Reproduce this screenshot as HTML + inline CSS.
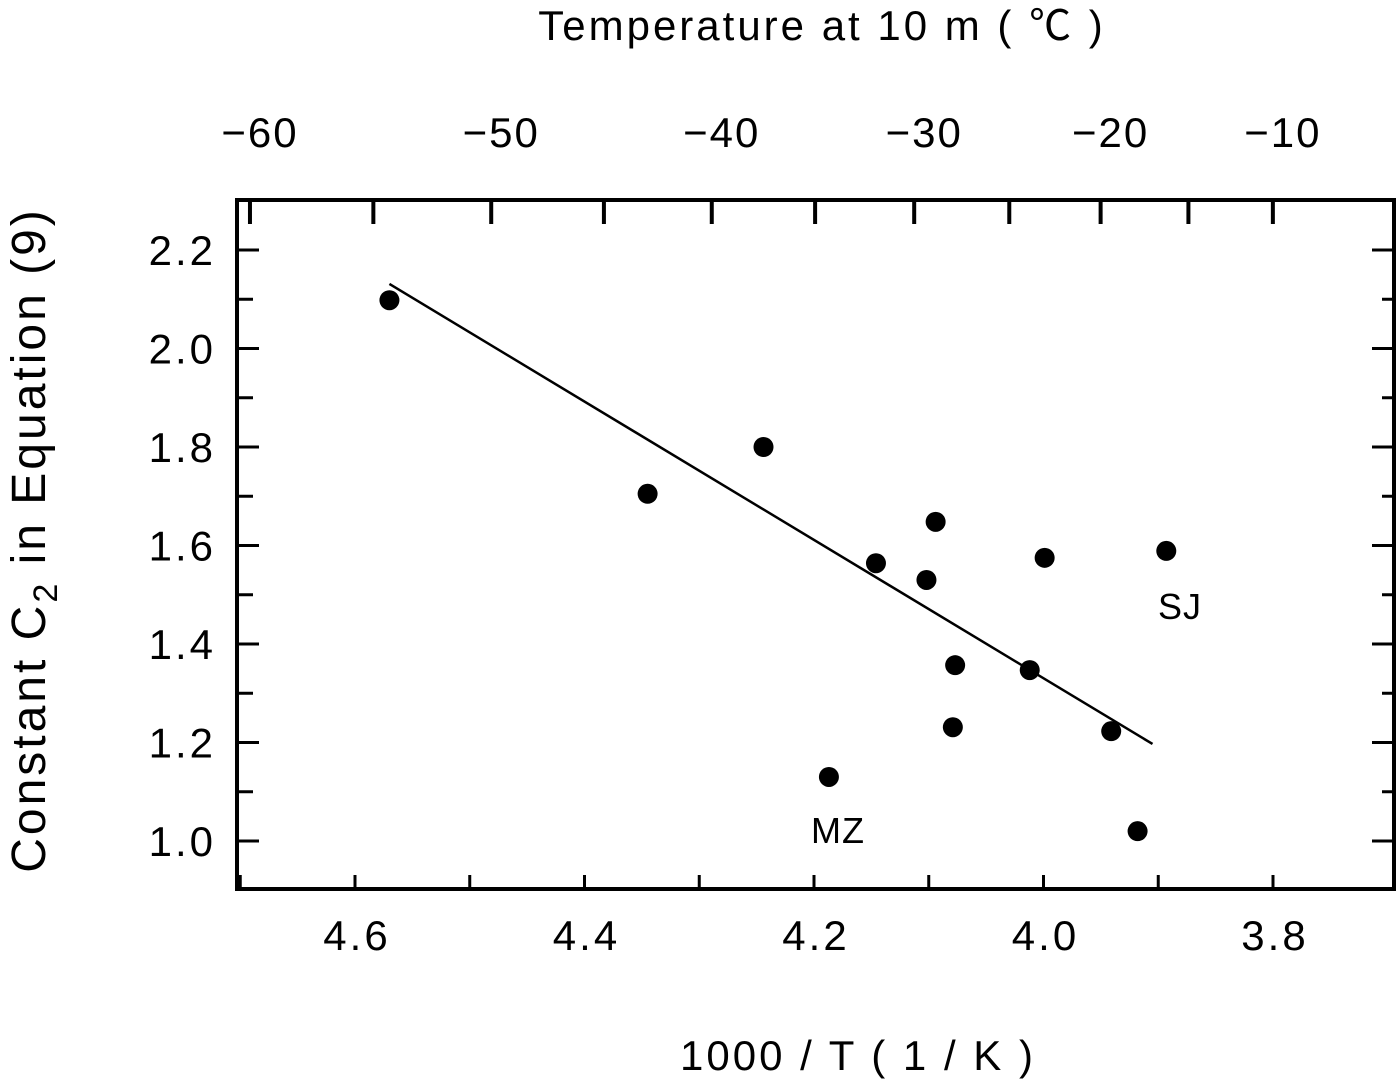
<!DOCTYPE html>
<html><head><meta charset="utf-8"><style>
body{margin:0;background:#fff}
svg text{font-family:"Liberation Sans","Noto Sans CJK JP",sans-serif;fill:#000}
</style></head><body>
<svg width="1400" height="1084" viewBox="0 0 1400 1084">
<g id="g"></g>
</svg>
<script>
const xTicks=[4.6,4.4,4.2,4.0,3.8];
const xTickLabels=["4.6","4.4","4.2","4.0","3.8"];
const yTicks=[1.0,1.2,1.4,1.6,1.8,2.0,2.2];
const yTickLabels=["1.0","1.2","1.4","1.6","1.8","2.0","2.2"];
const topTicks=[-60,-50,-40,-30,-20,-10];
const topTickLabels=["\u221260","\u221250","\u221240","\u221230","\u221220","\u221210"];
const ptX=[4.570,4.345,4.244,4.146,4.094,4.102,3.999,3.893,4.077,4.012,4.079,3.941,4.187,3.918];
const ptY=[2.098,1.705,1.800,1.564,1.648,1.530,1.575,1.589,1.357,1.347,1.231,1.223,1.130,1.020];
const fitX=[4.570,3.905];
const fitY=[2.131,1.197];

const L=237,R=1394,T=200,B=889;
const xs=v=>355+(4.6-v)/0.2*229.5;
const ys=v=>841-(v-1)/0.2*98.5;
const xt=t=>xs(1000/(t+273.15));
const g=document.getElementById('g');
const NS='http://www.w3.org/2000/svg';
function mk(tag,attrs,parent){const e=document.createElementNS(NS,tag);for(const k in attrs)e.setAttribute(k,attrs[k]);(parent||g).appendChild(e);return e;}

const frame=mk('rect',{x:L,y:T,width:R-L,height:B-T,fill:'none',stroke:'#000','stroke-width':4});



for(let v=4.7;v>=3.75;v-=0.1){const x=xs(v);if(x<L+3||x>R-3)continue;
 const t=mk('line',{x1:x,y1:B,x2:x,y2:B-14,stroke:'#000','stroke-width':3});
 
 }
xTicks.forEach((v,i)=>{const t=mk('text',{x:xs(v)+2,y:950,'font-size':42,'letter-spacing':3,'text-anchor':'middle'});t.textContent=xTickLabels[i];
 
 });
for(let t0=-60;t0<=-10;t0+=5){const x=xt(t0);
 const t=mk('line',{x1:x,y1:T,x2:x,y2:T+24,stroke:'#000','stroke-width':4});
 
 }
topTicks.forEach((v,i)=>{const t=mk('text',{x:xt(v)+10,y:147,'font-size':42,'letter-spacing':2,'text-anchor':'middle'});t.textContent=topTickLabels[i];
 
 });
for(let v=0.9;v<=2.3;v+=0.1){const y=ys(v);if(y<T+3||y>B-3)continue;
 const major=Math.round(v*10)%2===0;
 const a=mk('line',{x1:L,y1:y,x2:L+(major?22:16),y2:y,stroke:'#000','stroke-width':3});
 
 
 const b=mk('line',{x1:R,y1:y,x2:R-(major?22:12),y2:y,stroke:'#000','stroke-width':3});
 
 }
yTicks.forEach((v,i)=>{const t=mk('text',{x:216,y:ys(v)+15,'font-size':42,'letter-spacing':3,'text-anchor':'end'});t.textContent=yTickLabels[i];
 
 });
const fl=mk('line',{x1:xs(fitX[0]),y1:ys(fitY[0]),x2:xs(fitX[1]),y2:ys(fitY[1]),stroke:'#000','stroke-width':2.5});


ptX.forEach((v,i)=>{const c=mk('circle',{cx:xs(v),cy:ys(ptY[i]),r:10,fill:'#000'});
 
 });
</script>
<svg width="1400" height="1084" style="position:absolute;left:0;top:0">
<text x="822" y="40" font-size="42" letter-spacing="3" text-anchor="middle">Temperature at 10 m ( ℃ )</text>
<text x="858" y="1070" font-size="42" letter-spacing="3" text-anchor="middle">1000 / T  ( 1 / K )</text>
<text transform="translate(45,540) rotate(-90)" font-size="48" letter-spacing="3" text-anchor="middle">Constant C<tspan font-size="34" dy="12">2</tspan><tspan dy="-12"> in Equation (9)</tspan></text>
<text x="838" y="843" font-size="36" letter-spacing="1" text-anchor="middle">MZ</text>
<text x="1180" y="619" font-size="36" letter-spacing="1" text-anchor="middle">SJ</text>
</svg>
</body></html>
